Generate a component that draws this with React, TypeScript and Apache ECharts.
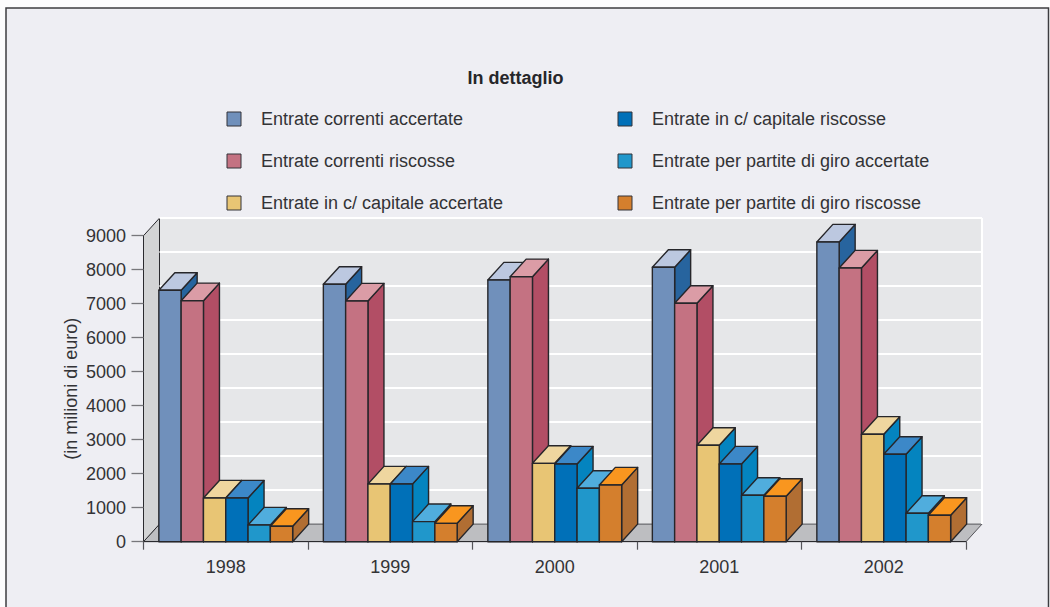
import React, { useEffect, useRef } from "react";
import * as echarts from "echarts";

const categories = ["1998", "1999", "2000", "2001", "2002"];
const yTicks = [0, 1000, 2000, 3000, 4000, 5000, 6000, 7000, 8000, 9000];
const correntiAccertate = [7394, 7570, 7697, 8070, 8815];
const correntiRiscosse = [7088, 7080, 7794, 7012, 8050];
const capitaleAccertate = [1285, 1697, 2305, 2835, 3160];
const capitaleRiscosse = [1285, 1697, 2285, 2285, 2570];
const giroAccertate = [491, 590, 1570, 1365, 835];
const giroRiscosse = [453, 540, 1668, 1335, 776];

const seriesNames = [
  "Entrate correnti accertate",
  "Entrate correnti riscosse",
  "Entrate in c/ capitale accertate",
  "Entrate in c/ capitale riscosse",
  "Entrate per partite di giro accertate",
  "Entrate per partite di giro riscosse",
];
const seriesValues = [
  correntiAccertate,
  correntiRiscosse,
  capitaleAccertate,
  capitaleRiscosse,
  giroAccertate,
  giroRiscosse,
];
const frontColors = ["#7090BB", "#C47282", "#E8C574", "#0070B8", "#2097CB", "#D47F2D"];
const topColors = ["#BCC8E0", "#DB9CA6", "#EFD69F", "#3C88C8", "#50ADDD", "#F9961F"];
const sideColors = ["#27649E", "#B24E65", "#0484BF", "#0484BF", "#0484BF", "#B16E33"];

const DX = 16;
const DY = -17.6;
const BAR_RATIO = 22.3 / 164.5;
const FONT = '"Liberation Sans", Arial, sans-serif';
const TEXT = "#333336";

function barRenderer(seriesIndex: number) {
  return (params: any, api: any) => {
    const band = api.size([1, 0])[0];
    const w = band * BAR_RATIO;
    const top = api.coord([params.dataIndex, api.value(1)]);
    const base = api.coord([params.dataIndex, 0]);
    const x = top[0] - 3 * w + seriesIndex * w;
    const yt = top[1];
    const yb = base[1];
    const stroke = { stroke: "#26262a", lineWidth: 1.4, lineJoin: "round" };
    return {
      type: "group",
      children: [
        {
          type: "polygon",
          shape: { points: [[x + w, yt], [x + w + DX, yt + DY], [x + w + DX, yb + DY], [x + w, yb]] },
          style: { fill: sideColors[seriesIndex], ...stroke },
        },
        {
          type: "polygon",
          shape: { points: [[x, yt], [x + DX, yt + DY], [x + w + DX, yt + DY], [x + w, yt]] },
          style: { fill: topColors[seriesIndex], ...stroke },
        },
        {
          type: "rect",
          shape: { x, y: yt, width: w, height: yb - yt },
          style: { fill: frontColors[seriesIndex], ...stroke },
        },
      ],
    };
  };
}

function wallRenderer(params: any, api: any) {
  const band = api.size([1, 0])[0];
  const x0 = api.coord([0, 0])[0] - band / 2;
  const x1 = x0 + band * categories.length;
  const y0 = api.coord([0, 0])[1];
  const y9 = api.coord([0, 9000])[1];
  const children: any[] = [];
  if (params.dataIndex === 0) {
    children.push(
      {
        type: "rect",
        shape: { x: x0 + DX, y: y9 + DY, width: x1 - x0, height: y0 - y9 },
        style: { fill: "#E6E7E9" },
      },
      {
        type: "polygon",
        shape: { points: [[x0, y0], [x0 + DX, y0 + DY], [x1 + DX, y0 + DY], [x1, y0]] },
        style: { fill: "#BDBEC1", stroke: "#55555a", lineWidth: 1 },
      },
      {
        type: "polygon",
        shape: { points: [[x0, y0], [x0 + DX, y0 + DY], [x0 + DX, y9 + DY], [x0, y9]] },
        style: { fill: "#D3D4D5", stroke: "#2a2a2e", lineWidth: 1 },
      },
      {
        type: "line",
        shape: { x1: x1 + DX, y1: y9 + DY, x2: x1 + DX, y2: y0 + DY },
        style: { stroke: "#FFFFFF", lineWidth: 2 },
      }
    );
  } else {
    const y = api.coord([0, api.value(1)])[1] + DY;
    children.push({
      type: "line",
      shape: { x1: x0 + DX, y1: y, x2: x1 + DX, y2: y },
      style: { stroke: "#FFFFFF", lineWidth: 2 },
    });
  }
  return { type: "group", children };
}

export default function App() {
  const ref = useRef<HTMLDivElement>(null);
  useEffect(() => {
    const chart = echarts.init(ref.current!, null, { renderer: "svg" });
    const legendBase = {
      orient: "vertical",
      top: 110,
      padding: 0,
      icon: "rect",
      itemWidth: 14,
      itemHeight: 14,
      itemGap: 24,
      selectedMode: false,
      itemStyle: { borderColor: "#333338", borderWidth: 1 },
      textStyle: { fontFamily: FONT, fontSize: 18, color: TEXT, padding: [0, 0, 0, 15] },
    };
    chart.setOption({
      animation: false,
      backgroundColor: "#FCFCFD",
      title: {
        text: "In dettaglio",
        left: 515.5,
        top: 69,
        padding: 0,
        textAlign: "center",
        textStyle: { fontFamily: FONT, fontSize: 18, fontWeight: "bold", color: "#26262a" },
      },
      legend: [
        { ...legendBase, left: 226.5, data: seriesNames.slice(0, 3) },
        { ...legendBase, left: 617.5, data: seriesNames.slice(3) },
      ],
      graphic: [
        {
          type: "rect",
          z: -1,
          shape: { x: 6, y: 8, width: 1042.5, height: 620 },
          style: { fill: "#EEEEF3", stroke: "#3c3c40", lineWidth: 1.5 },
        },
      ],
      grid: { left: 143.5, top: 235.7, width: 822.5, height: 306, containLabel: false },
      xAxis: {
        type: "category",
        data: categories,
        z: 3,
        axisLine: { show: true, lineStyle: { color: "#2a2a2e", width: 1.2 } },
        axisTick: { show: true, alignWithLabel: false, length: 8, lineStyle: { color: "#55555a", width: 1.2 } },
        axisLabel: { fontFamily: FONT, fontSize: 18, color: TEXT, margin: 16.5 },
        splitLine: { show: false },
      },
      yAxis: {
        type: "value",
        min: 0,
        max: 9000,
        interval: 1000,
        z: 3,
        name: "(in milioni di euro)",
        nameLocation: "middle",
        nameRotate: 90,
        nameGap: 64,
        nameMoveOverlap: false,
        nameTextStyle: { fontFamily: FONT, fontSize: 18, color: TEXT },
        axisLine: { show: true, lineStyle: { color: "#2a2a2e", width: 1 } },
        axisTick: { show: true, length: 12, lineStyle: { color: "#77777b", width: 1.3 } },
        axisLabel: {
          fontFamily: FONT,
          fontSize: 18,
          color: TEXT,
          margin: 17.5,
          formatter: (v: number) => String(v),
        },
        splitLine: { show: false },
      },
      series: [
        {
          type: "custom",
          name: "walls",
          z: 1,
          silent: true,
          renderItem: wallRenderer,
          encode: { x: 0, y: 1 },
          data: yTicks.map((t) => [0, t]),
        },
        ...seriesNames.map((name, s) => ({
          type: "custom",
          name,
          z: 4,
          silent: true,
          itemStyle: { color: frontColors[s] },
          renderItem: barRenderer(s),
          encode: { x: 0, y: 1 },
          data: seriesValues[s].map((v, i) => [i, v]),
        })),
      ],
    });
    return () => chart.dispose();
  }, []);
  return <div ref={ref} style={{ position: "absolute", left: 0, top: 0, width: 1050, height: 607 }} />;
}
